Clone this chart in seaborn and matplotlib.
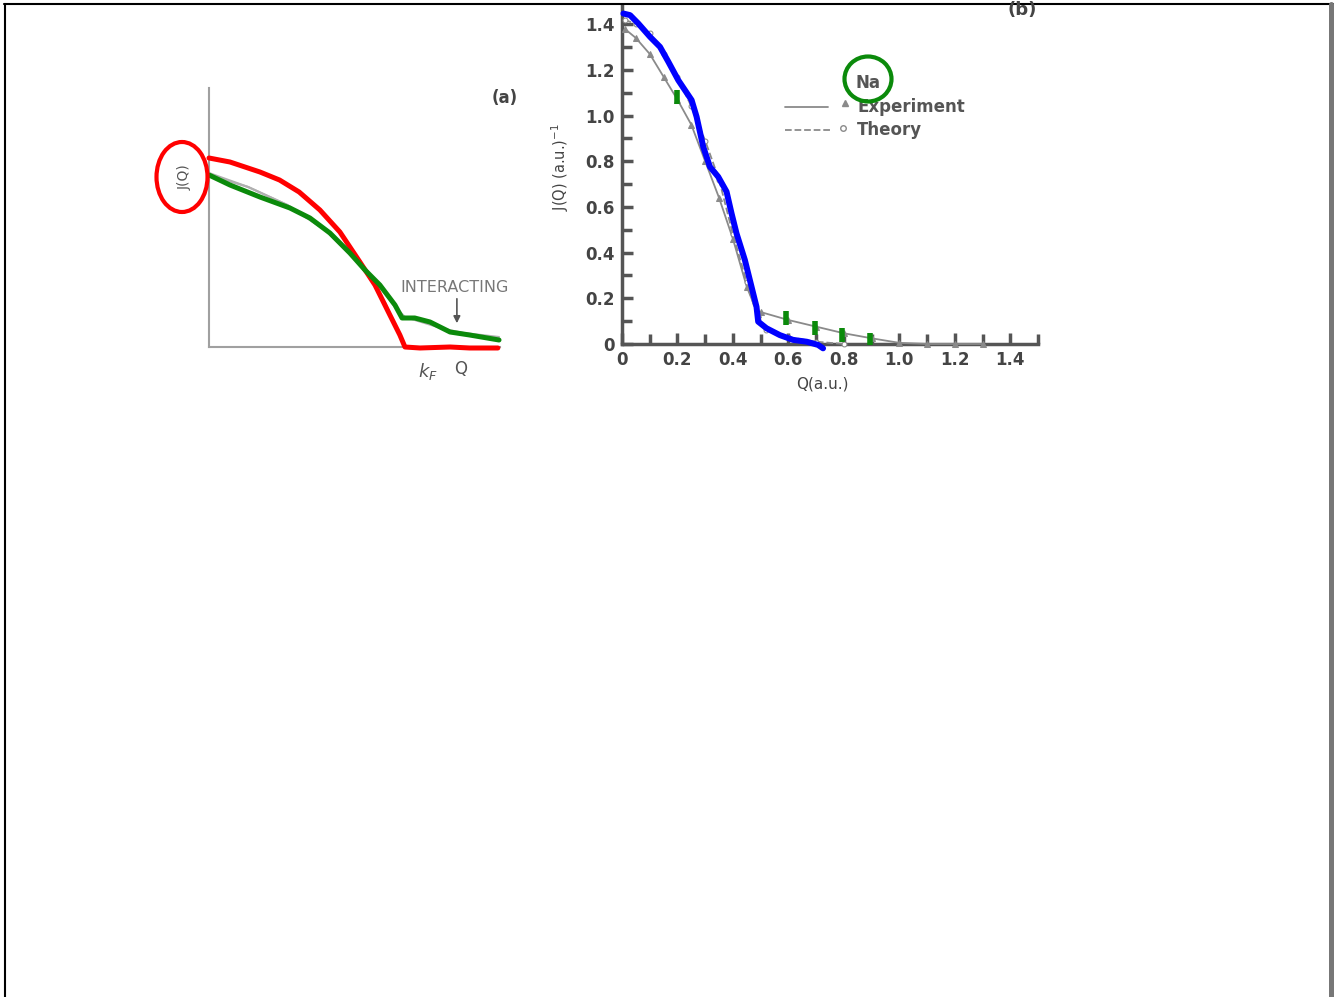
import numpy as np
import pandas as pd
import matplotlib
matplotlib.use("Agg")
import matplotlib.pyplot as plt
from matplotlib.patches import Ellipse
from matplotlib.ticker import MultipleLocator, FuncFormatter
import seaborn as sns

# ---- panel (a): momentum distribution sketch ----
a_free_q = [0.0, 0.2, 0.4, 0.6, 0.8, 0.9, 1.0]
a_free_j = [0.87, 0.80, 0.71, 0.58, 0.38, 0.22, 0.0]
a_int_q = [0.0, 0.2, 0.4, 0.6, 0.8, 0.95, 1.0, 1.1, 1.2, 1.3, 1.48]
a_int_j = [0.86, 0.80, 0.71, 0.58, 0.39, 0.20, 0.15, 0.12, 0.09, 0.07, 0.05]
# hand drawn overlays
a_red_q = [0.0, 0.107, 0.26, 0.36, 0.46, 0.566, 0.668, 0.77, 0.847, 0.923, 0.974, 1.0, 1.077, 1.23, 1.33, 1.474]
a_red_j = [0.945, 0.925, 0.875, 0.835, 0.775, 0.685, 0.575, 0.425, 0.31, 0.16, 0.06, 0.0, -0.005, 0.0, -0.005, -0.005]
a_green_q = [0.0, 0.107, 0.26, 0.413, 0.515, 0.617, 0.719, 0.796, 0.872, 0.949, 0.985, 1.05, 1.128, 1.23, 1.33, 1.48]
a_green_j = [0.86, 0.81, 0.75, 0.695, 0.645, 0.57, 0.47, 0.385, 0.31, 0.21, 0.145, 0.145, 0.125, 0.075, 0.06, 0.035]

# ---- panel (b): Na Compton profile ----
b_exp_q = [0.01, 0.05, 0.1, 0.15, 0.2, 0.25, 0.3, 0.35, 0.4, 0.45, 0.49, 0.5, 0.6, 0.7, 0.8, 0.9, 1.0, 1.1, 1.2, 1.3]
b_exp_j = [1.38, 1.34, 1.27, 1.17, 1.07, 0.96, 0.80, 0.64, 0.46, 0.25, 0.13, 0.14, 0.105, 0.076, 0.047, 0.025, 0.005, 0.0, 0.0, 0.0]
b_th_q = [0.01, 0.05, 0.1, 0.15, 0.2, 0.25, 0.3, 0.35, 0.4, 0.45, 0.49, 0.52, 0.6, 0.7, 0.8]
b_th_j = [1.42, 1.40, 1.36, 1.27, 1.17, 1.04, 0.89, 0.72, 0.48, 0.27, 0.11, 0.06, 0.03, 0.01, 0.0]
b_blue_q = [0.005, 0.029, 0.059, 0.101, 0.137, 0.167, 0.203, 0.251, 0.269, 0.293, 0.317, 0.347, 0.377,
            0.395, 0.413, 0.443, 0.467, 0.485, 0.491, 0.521, 0.569, 0.617, 0.666, 0.707, 0.725]
b_blue_j = [1.447, 1.44, 1.403, 1.345, 1.301, 1.236, 1.155, 1.068, 0.995, 0.863, 0.776, 0.732, 0.667,
            0.572, 0.484, 0.368, 0.251, 0.163, 0.098, 0.069, 0.039, 0.018, 0.010, -0.004, -0.019]
b_mark_q = [0.197, 0.593, 0.695, 0.795, 0.894]
b_mark_j = [1.08, 0.112, 0.069, 0.039, 0.018]

sns.set_theme(style="white")
plt.rcParams['font.family'] = ['DejaVu Sans']

fig = plt.figure(figsize=(13.36, 9.97), dpi=100)
fig.patch.set_facecolor("white")

gray = "#8a8a8a"
txt = "#444444"

# panel (a)
ax1 = fig.add_axes([209 / 1336, 1 - 347 / 997, 291 / 1336, 259 / 997])
ax1.set_xlim(0, 1.485)
ax1.set_ylim(0, 1.295)
for s in ["top", "right"]:
    ax1.spines[s].set_visible(False)
for s in ["left", "bottom"]:
    ax1.spines[s].set_color("#a0a0a0")
    ax1.spines[s].set_linewidth(1.5)
ax1.set_xticks([])
ax1.set_yticks([])
sns.lineplot(x=a_free_q, y=a_free_j, ax=ax1, color="#b0b0b0", linewidth=1.5, sort=False)
sns.lineplot(x=a_int_q, y=a_int_j, ax=ax1, color="#b0b0b0", linewidth=1.5, sort=False)
sns.lineplot(x=a_red_q, y=a_red_j, ax=ax1, color="#ff0000", linewidth=3.6, sort=False)
sns.lineplot(x=a_green_q, y=a_green_j, ax=ax1, color="#0b8a0b", linewidth=3.6, sort=False)
for ln in ax1.lines:
    ln.set_clip_on(False)
    ln.set_zorder(3)
ax1.text(1.51, 1.245, "(a)", fontsize=12, fontweight="bold", color=txt, ha="center", va="center")
ax1.text(-0.122, 0.85, "J(Q)", fontsize=10, color="#555555", rotation=90, ha="center", va="center")
ax1.text(1.255, 0.30, "INTERACTING", fontsize=11.5, color="#777777", ha="center", va="center")
ax1.annotate("", xy=(1.265, 0.105), xytext=(1.265, 0.255),
             arrowprops=dict(arrowstyle="-|>", color="#555555", lw=1.2, mutation_scale=10))
ax1.text(1.117, -0.125, "$k_F$", fontsize=13, color="#555555", ha="center", va="center")
ax1.text(1.286, -0.11, "Q", fontsize=12, color="#555555", ha="center", va="center")

# panel (b)
ax2 = fig.add_axes([622 / 1336, 1 - 344 / 997, 416 / 1336, 338 / 997])
ax2.set_xlim(0, 1.5)
ax2.set_ylim(0, 1.48)
for s in ["top", "right"]:
    ax2.spines[s].set_visible(False)
for s in ["left", "bottom"]:
    ax2.spines[s].set_color("#555555")
    ax2.spines[s].set_linewidth(2.5)
ax2.xaxis.set_major_locator(MultipleLocator(0.2))
ax2.xaxis.set_minor_locator(MultipleLocator(0.1))
ax2.yaxis.set_major_locator(MultipleLocator(0.2))
ax2.yaxis.set_minor_locator(MultipleLocator(0.1))
fmt = FuncFormatter(lambda v, p: "0" if abs(v) < 1e-9 else f"{v:.1f}")
ax2.xaxis.set_major_formatter(fmt)
ax2.yaxis.set_major_formatter(fmt)
ax2.tick_params(which="both", direction="in", color="#555555", width=2.5, left=True, bottom=True)
ax2.tick_params(which="major", length=8, labelsize=12, labelcolor=txt, pad=5)
ax2.tick_params(which="minor", length=7)
for lab in ax2.get_xticklabels() + ax2.get_yticklabels():
    lab.set_fontweight("bold")

sns.lineplot(x=b_exp_q, y=b_exp_j, ax=ax2, color=gray, linewidth=1.3, marker="^",
             markersize=4, markeredgecolor=gray, sort=False)
sns.lineplot(x=b_th_q, y=b_th_j, ax=ax2, color=gray, linewidth=1.3, linestyle="--", marker="o",
             markersize=3.5, markerfacecolor="white", markeredgecolor=gray, sort=False)
sns.lineplot(x=b_blue_q, y=b_blue_j, ax=ax2, color="#0000ff", linewidth=4.3, sort=False)
for ln in ax2.lines:
    ln.set_clip_on(False)
    ln.set_zorder(3)
sns.scatterplot(x=b_mark_q, y=b_mark_j, ax=ax2, color="#0b8a0b", marker="|", s=90, linewidth=4, zorder=5)

ax2.set_xlabel("Q(a.u.)", fontsize=11, color=txt)
ax2.xaxis.set_label_coords(0.481, -0.097)
ax2.set_ylabel("J(Q) (a.u.)$^{-1}$", fontsize=10.5, color=txt)
ax2.yaxis.set_label_coords(-0.122, 0.524)

# legend drawn by hand like the scan
ax2.plot([0.391, 0.495], [0.701, 0.701], transform=ax2.transAxes, color=gray, lw=1.3)
ax2.plot([0.536], [0.713], transform=ax2.transAxes, marker="^", ms=4, color=gray)
ax2.text(0.565, 0.701, "Experiment", transform=ax2.transAxes, fontsize=12, color="#555555",
         fontweight="bold", va="center")
ax2.plot([0.391, 0.5], [0.633, 0.633], transform=ax2.transAxes, color=gray, lw=1.3, ls="--")
ax2.plot([0.531], [0.638], transform=ax2.transAxes, marker="o", ms=4, mfc="white", mec=gray)
ax2.text(0.565, 0.633, "Theory", transform=ax2.transAxes, fontsize=12, color="#555555",
         fontweight="bold", va="center")
ax2.text(0.591, 0.772, "Na", transform=ax2.transAxes, fontsize=12, color="#555555",
         fontweight="bold", ha="center", va="center")

# overlay: annotation circles, "(b)" and page border
ov = fig.add_axes([0, 0, 1, 1], zorder=10)
ov.set_xlim(0, 1336)
ov.set_ylim(997, 0)
ov.axis("off")
ov.patch.set_alpha(0)
ov.add_patch(Ellipse((182, 177), 51, 70, fill=False, edgecolor="#ff0000", linewidth=3))
ov.add_patch(Ellipse((868, 79), 47, 45, fill=False, edgecolor="#0b8a0b", linewidth=3))
ov.text(1022, 19, "(b)", fontsize=13, fontweight="bold", color=txt, ha="center", va="bottom")
ov.plot([4.5, 4.5], [4, 997], color="black", lw=1.5)
ov.plot([4, 1333], [4, 4], color="black", lw=1.5)
ov.plot([1331, 1331], [4, 997], color="#777777", lw=3.6)

fig.savefig("out.png", dpi=100)
